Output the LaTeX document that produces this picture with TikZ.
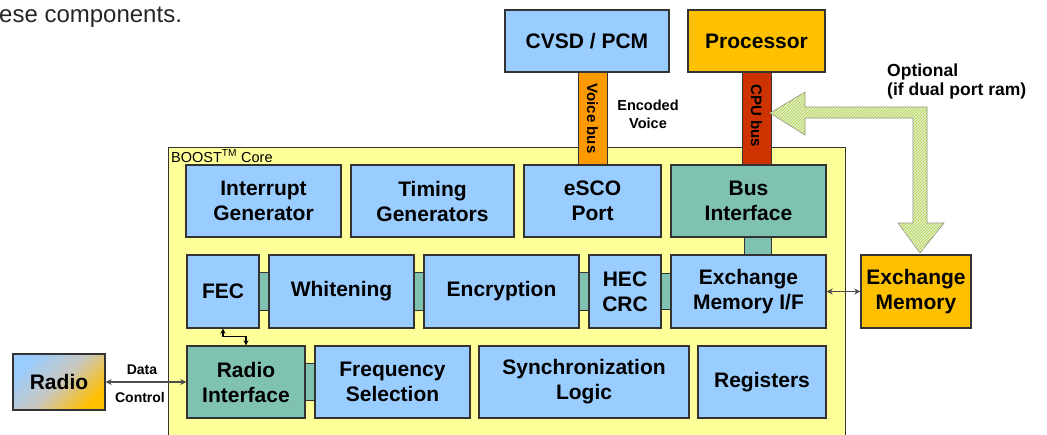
\documentclass[tikz,border=0pt]{standalone}
\usepackage{fontspec}
\setmainfont{Liberation Sans}
\usetikzlibrary{patterns,arrows.meta}
\definecolor{blueF}{HTML}{99CCFF}
\definecolor{tealF}{HTML}{7FC2B2}
\definecolor{coreF}{HTML}{FFFF99}
\definecolor{orangeF}{HTML}{FFC000}
\definecolor{voiceF}{HTML}{FF9900}
\definecolor{cpuF}{HTML}{CC3300}
\definecolor{lineC}{HTML}{333333}
\definecolor{arrowF}{HTML}{E6F2BE}
\definecolor{arrowP}{HTML}{A8CC55}
\definecolor{midGray}{HTML}{C8C8C0}
\tikzset{
  boxbase/.style={draw=lineC, line width=1.4pt, inner sep=0pt, align=center,
    font=\fontsize{21}{25}\selectfont\bfseries},
  bluebox/.style={boxbase, fill=blueF},
  tealbox/.style={boxbase, fill=tealF},
  orangebox/.style={boxbase, fill=orangeF},
  bar/.style={draw=lineC, line width=0.8pt, fill=tealF},
  busbar/.style={draw=lineC, line width=0.8pt, inner sep=0pt},
  bustxt/.style={rotate=-90, inner sep=0pt, font=\fontsize{15}{18}\selectfont\bfseries},
  smalltxt/.style={inner sep=0pt, align=center, font=\fontsize{14}{18}\selectfont\bfseries},
  link/.style={draw=black!70, line width=1.5pt, {Stealth[length=6pt,width=6pt]}-{Stealth[length=6pt,width=6pt]}},
}
\begin{document}
\begin{tikzpicture}[x=1pt,y=-1pt]
\useasboundingbox (0,0) rectangle (1047,434);

% intro text
\node[anchor=west, inner sep=0pt, font=\fontsize{24}{28}\selectfont, text=black!85] (intro) at (-1,17) {ese components.};

% core
\draw[draw=lineC, line width=1pt, fill=coreF] (168,147) rectangle (845,445);
\node[anchor=west, inner sep=0pt, font=\fontsize{14.5}{17}\selectfont] (corelbl) at (171,156) {BOOST\textsuperscript{TM} Core};

% top boxes
\node[bluebox, minimum width=164pt, minimum height=62pt] (cvsd) at (587,41) {CVSD / PCM};
\node[orangebox, minimum width=137pt, minimum height=62pt] (proc) at (756.5,41) {Processor};

% buses
\node[busbar, fill=voiceF, minimum width=29pt, minimum height=93pt] (vbus) at (592.5,118.5) {};
\node[bustxt] (vbustxt) at (vbus) {Voice bus};
\node[busbar, fill=cpuF, minimum width=29pt, minimum height=93pt] (cbus) at (756.5,118.5) {};
\node[bustxt] (cbustxt) at ([yshift=3pt]cbus.center) {CPU bus};

\node[smalltxt, font=\fontsize{14.5}{18}\selectfont\bfseries] (enc) at (648,114) {Encoded\\Voice};
\node[anchor=west, inner sep=0pt, align=left, font=\fontsize{17.5}{19}\selectfont\bfseries] (opt) at (887,81.5) {Optional\\(if dual port ram)};

% hatched arrow
\path[draw=black!45, line width=0.6pt, fill=arrowF]
  (920,253) -- (944,223) -- (927,223) -- (927,107) -- (805,107) -- (805,92) -- (770,113)
  -- (805,135) -- (805,118) -- (913,118) -- (913,223) -- (898,223) -- cycle;
\path[pattern=north east lines, pattern color=arrowP]
  (920,253) -- (944,223) -- (927,223) -- (927,107) -- (805,107) -- (805,92) -- (770,113)
  -- (805,135) -- (805,118) -- (913,118) -- (913,223) -- (898,223) -- cycle;

% row 1
\node[bluebox, minimum width=155pt, minimum height=72pt] (intr) at (263.5,201) {Interrupt\\Generator};
\node[bluebox, minimum width=163pt, minimum height=72pt] (timing) at (432.5,201) {Timing\\Generators};
\node[bluebox, minimum width=137pt, minimum height=72pt] (esco) at (592.5,201) {eSCO\\Port};
\node[tealbox, minimum width=155pt, minimum height=72pt] (busif) at (748.5,201) {Bus\\Interface};

% connector bars (drawn first)
\draw[bar] (259,272) rectangle (269,310);
\draw[bar] (414,272) rectangle (424,310);
\draw[bar] (579,272) rectangle (589,310);
\draw[bar] (661,273) rectangle (671,309);
\draw[bar] (744,237) rectangle (771,255);
\draw[bar] (305,363) rectangle (315,400);

% row 2
\node[bluebox, minimum width=72pt, minimum height=73pt] (fec) at (223,291.5) {FEC};
\node[bluebox, minimum width=145pt, minimum height=73pt] (whit) at (341.5,291.5) {Whitening};
\node[bluebox, minimum width=155pt, minimum height=73pt] (encr) at (501.5,291.5) {Encryption};
\node[bluebox, minimum width=72pt, minimum height=73pt] (hec) at (625,291.5) {HEC\\CRC};
\node[bluebox, minimum width=155pt, minimum height=73pt] (exmif) at (748.5,291.5) {Exchange\\Memory I/F};

% row 3
\node[tealbox, minimum width=118pt, minimum height=72pt] (radioif) at (246,382) {Radio\\Interface};
\node[bluebox, minimum width=155pt, minimum height=72pt] (freq) at (392.5,382) {Frequency\\Selection};
\node[bluebox, minimum width=210pt, minimum height=72pt] (sync) at (584,382) {Synchronization\\Logic};
\node[bluebox, minimum width=128pt, minimum height=72pt] (regs) at (762,382) {Registers};

% exchange memory
\node[orangebox, minimum width=110pt, minimum height=73pt] (exmem) at (916,291.5) {Exchange\\Memory};

% radio
\node[boxbase, top color=blueF, bottom color=orangeF, middle color=midGray, shading angle=45,
  minimum width=92pt, minimum height=56pt] (radio) at (59,382) {Radio};

% connectors
\draw[link] (radio.east) -- (radioif.west);
\node[smalltxt] (data) at (142,370) {Data};
\node[smalltxt] (ctrl) at (140,397) {Control};
\draw[draw=black, line width=1.2pt, {Stealth[length=5pt,width=5pt]}-{Stealth[length=5pt,width=5pt]}]
  (fec.south) -- ++(0,8) -| (radioif.north);
\draw[link, line width=1.8pt] (exmif.east) -- (exmem.west);
\end{tikzpicture}
\end{document}
